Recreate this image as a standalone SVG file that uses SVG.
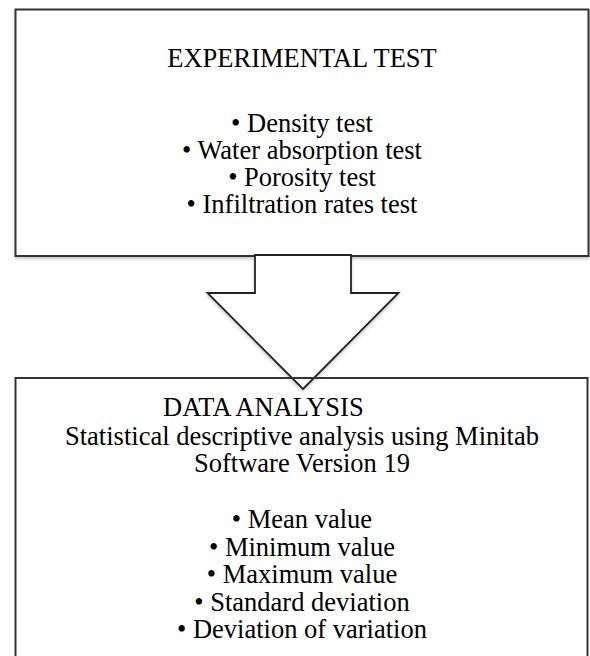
<svg xmlns="http://www.w3.org/2000/svg" width="590" height="656" viewBox="0 0 590 656">
  <defs>
    <filter id="soft-shadow" x="-5%" y="-5%" width="110%" height="115%">
      <feDropShadow dx="0" dy="2" stdDeviation="1.5" flood-color="#000" flood-opacity="0.22"/>
    </filter>
    <style>
      .box { fill: #ffffff; stroke: #333333; stroke-width: 2; }
      .outline { fill: none; stroke: #333333; stroke-width: 2; }
      .arrow { fill: #ffffff; stroke: #222222; stroke-width: 1.8; stroke-linejoin: miter; }
      .label { font-family: "Liberation Serif", "Times New Roman", serif; font-size: 26.5px; fill: #000000; }
      .mid { text-anchor: middle; }
    </style>
  </defs>

  <rect width="590" height="656" fill="#ffffff"/>

  <!-- first stage -->
  <g id="experimental-test">
    <rect class="box" x="15.5" y="9.5" width="573" height="246.5" filter="url(#soft-shadow)"/>
    <text class="label mid" x="302" y="66.5">EXPERIMENTAL TEST</text>
    <text class="label mid" x="302" y="131.5">• Density test</text>
    <text class="label mid" x="302" y="158.5">• Water absorption test</text>
    <text class="label mid" x="302" y="185.5">• Porosity test</text>
    <text class="label mid" x="302" y="212.5">• Infiltration rates test</text>
  </g>

  <!-- block arrow between the stages -->
  <g id="connectors">
    <polygon class="arrow" filter="url(#soft-shadow)"
             points="255,255 255,293 207.5,293 303,389 398.5,293 351,293 351,255"/>
  </g>

  <!-- second stage -->
  <g id="data-analysis">
    <rect class="outline" x="15.5" y="378" width="572" height="320"/>
    <text class="label" x="163" y="416">DATA ANALYSIS</text>
    <text class="label mid" x="302" y="444.5">Statistical descriptive analysis using Minitab</text>
    <text class="label mid" x="302" y="471.5">Software Version 19</text>
    <text class="label mid" x="302" y="528">• Mean value</text>
    <text class="label mid" x="302" y="555.5">• Minimum value</text>
    <text class="label mid" x="302" y="583">• Maximum value</text>
    <text class="label mid" x="302" y="610.5">• Standard deviation</text>
    <text class="label mid" x="302" y="638">• Deviation of variation</text>
  </g>
</svg>
